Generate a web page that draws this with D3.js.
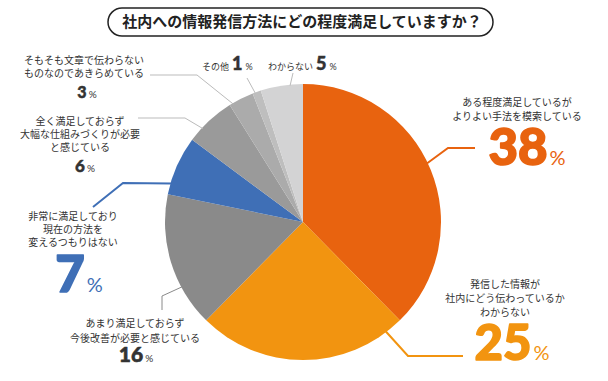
<!DOCTYPE html>
<html><head><meta charset="utf-8">
<script src="https://cdn.jsdelivr.net/npm/d3@7"></script>
<style>
html,body{margin:0;padding:0;background:#fff;}
svg{display:block;}
</style></head>
<body>
<svg id="chart" width="608" height="381"></svg>
<script>
// ---- data ----
const title = "社内への情報発信方法にどの程度満足していますか？";
const categories = [
  ["ある程度満足しているが","よりよい手法を模索している"],
  ["発信した情報が","社内にどう伝わっているか","わからない"],
  ["あまり満足しておらず","今後改善が必要と感じている"],
  ["非常に満足しており","現在の方法を","変えるつもりはない"],
  ["全く満足しておらず","大幅な仕組みづくりが必要","と感じている"],
  ["そもそも文章で伝わらない","ものなのであきらめている"],
  ["その他"],
  ["わからない"]
];
const values = [38, 25, 16, 7, 6, 3, 1, 5];
const colors = ["#E8630F","#F29410","#8A8A8A","#3F6FB6","#9A9A9A","#ABABAB","#BEBEBE","#D3D3D4"];

// ---- layout (positions & styles, not data) ----
const cx = 303, cy = 222, R = 138;
const layout = [
  {lines:[517,106,14], num:[527,165], size:51, pct:20, sw:1.6, numColor:"#E8630F", lead:{a:64.7, pts:[[448,148],[475,148]], c:"#E8630F", w:2}},
  {lines:[505,288,14], num:[512,360], size:49, pct:20, sw:1.6, numColor:"#F29410", lead:{a:142.9, pts:[[408,356],[463,356]], c:"#F29410", w:2}},
  {lines:[135,327,15], num:[136,362], size:21, pct:10, sw:0.6, numColor:"#333", lead:{a:241.8, pts:[[162,296],[162,310]], c:"#8A8A8A", w:1}},
  {lines:[73,220,13], num:[79,292], size:51, pct:20, sw:1.6, numColor:"#3F6FB6", lead:{a:286.3, pts:[[123,183],[93,207]], c:"#3F6FB6", w:2}},
  {lines:[80,125,13], num:[85,172], size:17, pct:10, sw:0.5, numColor:"#333", lead:{a:313, pts:[[185,118],[138,118]], c:"#BBBBBB", w:1}},
  {lines:[84,64,13], num:[87,98], size:16, pct:10, sw:0.5, numColor:"#333", lead:{a:329.4, pts:[[197,75],[150,75]], c:"#BBBBBB", w:1}},
  {inline:[202,70], size:18, pct:9, sw:0.5, numColor:"#333", lead:{a:339.7, pts:[[247,78]], c:"#BBBBBB", w:1}},
  {inline:[268,70], size:18, pct:9, sw:0.5, numColor:"#333", lead:{a:354.6, pts:[[293,73]], c:"#BBBBBB", w:1}}
];

const svg = d3.select("#chart");
const jp = "'Noto Sans CJK JP','Noto Sans',sans-serif";
const numFont = "Lato,'Noto Sans',sans-serif";

// title pill
svg.append("rect").attr("x",108).attr("y",8).attr("width",385).attr("height",28)
  .attr("rx",14).attr("ry",14).attr("fill","#fff").attr("stroke","#222").attr("stroke-width",1.5);
svg.append("text").attr("x",302).attr("y",27).attr("text-anchor","middle")
  .attr("font-family",jp).attr("font-weight",700).attr("font-size",15).attr("fill","#222")
  .text(title);

// pie
const pie = d3.pie().sort(null).value(d=>d);
const arc = d3.arc().innerRadius(0).outerRadius(R);
const g = svg.append("g").attr("transform",`translate(${cx},${cy})`);
g.selectAll("path").data(pie(values)).join("path")
  .attr("d",arc).attr("fill",(d,i)=>colors[i]);

// leader lines
const line = d3.line();
layout.forEach((L,i)=>{
  const p0 = d3.pointRadial(L.lead.a*Math.PI/180, R-1);
  const pts = [[cx+p0[0], cy+p0[1]], ...L.lead.pts];
  svg.append("path").attr("d",line(pts)).attr("fill","none")
    .attr("stroke",L.lead.c).attr("stroke-width",L.lead.w);
});

// labels
layout.forEach((L,i)=>{
  if (L.inline){
    const t = svg.append("text").attr("x",L.inline[0]).attr("y",L.inline[1])
      .attr("fill","#333");
    t.append("tspan").attr("font-family",jp).attr("font-size",9).text(categories[i][0]);
    t.append("tspan").attr("dx",3).attr("font-family",numFont).attr("font-weight",900)
      .attr("font-size",L.size).attr("fill",L.numColor)
      .attr("stroke",L.numColor).attr("stroke-width",L.sw).text(values[i]);
    t.append("tspan").attr("dx",3).attr("font-family",numFont).attr("font-size",L.pct).text("%");
    return;
  }
  const [lx, ly, lh] = L.lines;
  const t = svg.append("text").attr("text-anchor","middle")
    .attr("font-family",jp).attr("font-size",10).attr("fill","#333");
  categories[i].forEach((s,k)=>{
    t.append("tspan").attr("x",lx).attr("y",ly+k*lh).text(s);
  });
  const n = svg.append("text").attr("x",L.num[0]).attr("y",L.num[1]).attr("text-anchor","middle")
    .attr("fill",L.numColor);
  n.append("tspan").attr("font-family",numFont).attr("font-weight",900).attr("font-size",L.size)
    .attr("stroke",L.numColor).attr("stroke-width",L.sw).attr("stroke-linejoin","round").text(values[i]);
  n.append("tspan").attr("dx",2).attr("font-family",numFont).attr("font-weight",400).attr("font-size",L.pct).text("%");
});
</script>
</body></html>
